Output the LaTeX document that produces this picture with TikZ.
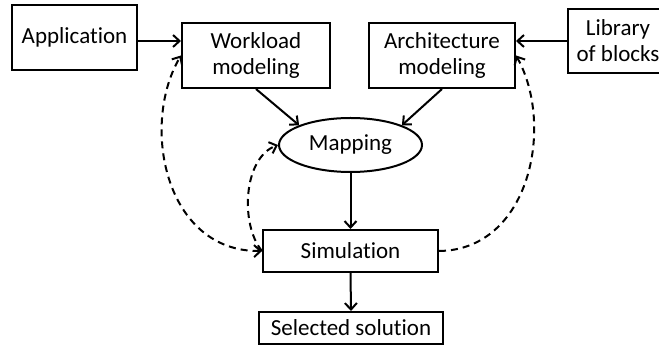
\documentclass[tikz,border=0pt]{standalone}
\usepackage{fontspec}
\setmainfont{Carlito}[Ligatures=CommonOff]
\usetikzlibrary{arrows.meta,shapes.geometric}
\tikzset{
  tip/.tip={Straight Barb[length=6.5pt,width=12pt,line width=2pt]},
  box/.style={draw, line width=2pt, inner sep=0pt, align=center,
    font=\fontsize{23}{26}\selectfont},
  arr/.style={line width=2pt, -tip},
  fb/.style={arr, dash pattern=on 7pt off 5pt},
}
\begin{document}
\begin{tikzpicture}[x=1pt,y=-1pt]
\useasboundingbox (0,0) rectangle (659,347);
% blocks
\node[box, minimum width=125pt, minimum height=65pt] (app)  at (74.5,37.5) {Application};
\node[box, minimum width=148pt, minimum height=65pt] (work) at (256,55.5) {Workload\\modeling};
\node[box, minimum width=146pt, minimum height=65pt] (arch) at (442,55.5) {Architecture\\modeling};
\node[box, minimum width=100pt, minimum height=64pt] (lib)  at (618,41) {Library\\of blocks};
\node[box, ellipse, minimum width=143pt, minimum height=54pt] (map) at (350.5,145) {Mapping};
\node[box, minimum width=175pt, minimum height=42pt] (sim) at (350.5,251) {Simulation};
\node[box, minimum width=184pt, minimum height=32pt] (sel) at (351,328) {Selected solution};
% main flow
\draw[arr] (app.east |- lib.west) -- (work.west |- lib.west);
\draw[arr] (lib.west) -- (arch.east |- lib.west);
\draw[arr] (work.south) -- (map.159);
\draw[arr] (arch.south) -- (map.21);
\draw[arr] (map.south) -- (sim.north);
\draw[arr] (sim.south) -- (sel.north);
% feedback loops
\draw[fb, tip-tip] (sim.west) .. controls (165,252) and (140,125) .. (work.west);
\draw[fb] (sim.west) .. controls (240,225) and (243,158) .. (map.west);
\draw[fb] (sim.east) .. controls (530,250) and (555,125) .. (arch.east);
\end{tikzpicture}
\end{document}
